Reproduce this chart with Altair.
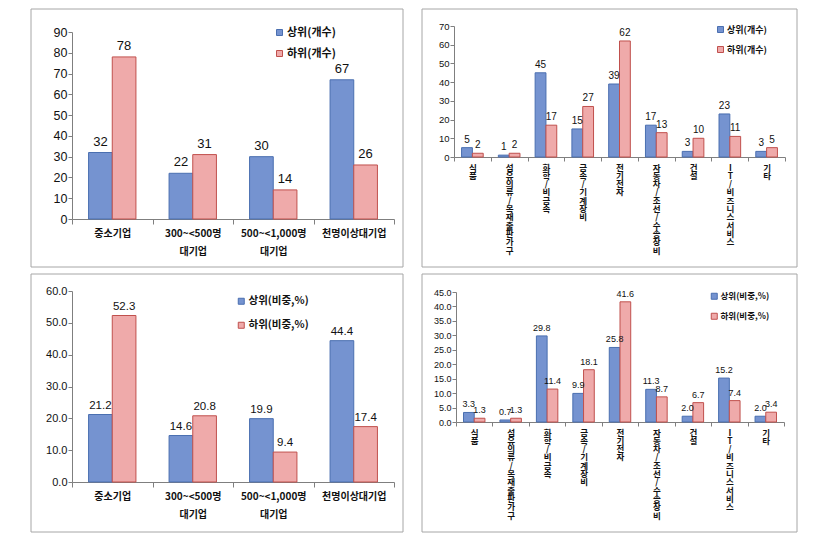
import altair as alt
import pandas as pd

# ---------------- data ----------------
size_cats = ["중소기업", "300~<500명 대기업", "500~<1,000명 대기업", "천명이상대기업"]
ind_cats = ["식품", "섬유의류/목재출판가구", "화학/비금속", "금속/기계장비", "전기전자",
            "자동차/조선/수송장비", "건설", "IT/비즈니스서비스", "기타"]

tl_series = ["상위(개수)", "하위(개수)"]
tl_top = [32, 22, 30, 67]
tl_bot = [78, 31, 14, 26]

tr_series = ["상위(개수)", "하위(개수)"]
tr_top = [5, 1, 45, 15, 39, 17, 3, 23, 3]
tr_bot = [2, 2, 17, 27, 62, 13, 10, 11, 5]

bl_series = ["상위(비중,%)", "하위(비중,%)"]
bl_top = [21.2, 14.6, 19.9, 44.4]
bl_bot = [52.3, 20.8, 9.4, 17.4]

br_series = ["상위(비중,%)", "하위(비중,%)"]
br_top = [3.3, 0.7, 29.8, 9.9, 25.8, 11.3, 2.0, 15.2, 2.0]
br_bot = [1.3, 1.3, 11.4, 18.1, 41.6, 8.7, 6.7, 7.4, 3.4]

BLUE_FILL = "#7593d0"
BLUE_LINE = "#4a6fb0"
RED_FILL = "#efaaaa"
RED_LINE = "#c0504d"
FRAME = "#a6a6a6"
AXIS = "#7f7f7f"
NUM_FONT = "'Liberation Sans Narrow', 'Liberation Sans', Arial, sans-serif"
KR_FONT = "'Noto Sans CJK KR', sans-serif"


def panel(cats, series, top, bot, *, width, height, yrange, ymax, ystep, fmt,
          frame, leg, sizes, vertical):
    tick_fs, val_fs, leg_fs, xl_fs = sizes
    df = pd.DataFrame({
        "cat": cats + cats,
        "series": [series[0]] * len(cats) + [series[1]] * len(cats),
        "value": top + bot,
    })
    if vertical:
        xaxis = alt.Axis(title=None, labelAngle=0, tickBand="extent",
                         labelExpr="split(datum.label, '')",
                         labelFont=KR_FONT, labelFontWeight="bold", labelFontSize=xl_fs,
                         labelLineHeight=8.3, labelBaseline="top", labelPadding=2,
                         tickSize=4, domainColor=AXIS, tickColor=AXIS, labelColor="#111")
    else:
        xaxis = alt.Axis(title=None, labelAngle=0, tickBand="extent",
                         labelExpr="split(datum.label, ' ')",
                         labelFont=KR_FONT, labelFontWeight="bold", labelFontSize=xl_fs,
                         labelLineHeight=18, labelBaseline="top", labelPadding=4,
                         tickSize=5, domainColor=AXIS, tickColor=AXIS, labelColor="#111")
    yvals = [round(i * ystep, 1) for i in range(int(round(ymax / ystep)) + 1)]
    yaxis = alt.Axis(title=None, values=yvals, format=fmt, grid=False,
                     labelFont=NUM_FONT, labelFontSize=tick_fs, labelPadding=1,
                     tickSize=4, domainColor=AXIS, tickColor=AXIS, labelColor="#111")
    x = alt.X("cat:N", sort=cats, scale=alt.Scale(paddingInner=0, paddingOuter=0), axis=xaxis)
    xo = alt.XOffset("series:N", sort=series,
                     scale=alt.Scale(paddingOuter=0.7, paddingInner=0))
    y = alt.Y("value:Q", scale=alt.Scale(domain=[0, ymax], range=yrange, nice=False, zero=True),
              axis=yaxis)
    color = alt.Color("series:N", sort=series,
                      scale=alt.Scale(domain=series, range=[BLUE_FILL, RED_FILL]),
                      legend=alt.Legend(orient="none", legendX=leg[0], legendY=leg[1],
                                        title=None, symbolType="square", symbolSize=36,
                                        symbolStrokeWidth=1, padding=0, rowPadding=leg[2],
                                        labelFont=KR_FONT, labelFontWeight="bold",
                                        labelFontSize=leg_fs, labelOffset=2,
                                        labelColor="#111"))
    stroke = alt.Stroke("series:N", sort=series,
                        scale=alt.Scale(domain=series, range=[BLUE_LINE, RED_LINE]),
                        legend=None)
    base = alt.Chart(df)
    bars = base.mark_bar(strokeWidth=1).encode(x=x, xOffset=xo, y=y, color=color, stroke=stroke)
    labels = base.mark_text(baseline="bottom", dy=-4 if not vertical else -3, font=NUM_FONT,
                            fontSize=val_fs, color="#111").encode(
        x=x, xOffset=xo, y=y,
        text=alt.Text("value:Q", format=fmt))
    box = alt.Chart(pd.DataFrame({"k": [0]})).mark_rect(
        filled=False, stroke=FRAME, strokeWidth=1).encode(
        x=alt.value(-frame[0]), x2=alt.value(width + frame[1]),
        y=alt.value(-frame[2]), y2=alt.value(height + frame[3]))
    return alt.layer(box, bars, labels).properties(width=width, height=height)


tl = panel(size_cats, tl_series, tl_top, tl_bot, width=322, height=187, yrange=[187, 0],
           ymax=90, ystep=10, fmt="d", frame=(41, 9, 23, 48), leg=(202, -5, 9),
           sizes=(12.5, 13, 11, 10), vertical=False)
tr = panel(ind_cats, tr_series, tr_top, tr_bot, width=331, height=125, yrange=[125, -6],
           ymax=70, ystep=10, fmt="d", frame=(32, 12, 23, 110), leg=(262, -7, 9),
           sizes=(9.5, 10, 9, 8.5), vertical=True)
bl = panel(size_cats, bl_series, bl_top, bl_bot, width=322, height=191, yrange=[191, 0],
           ymax=60, ystep=10, fmt=".1f", frame=(41, 9, 17, 50), leg=(164, 5, 13),
           sizes=(11, 11.5, 10.5, 10), vertical=False)
br = panel(ind_cats, br_series, br_top, br_bot, width=328, height=131, yrange=[131, 1],
           ymax=45, ystep=5, fmt=".1f", frame=(34, 13, 17, 110), leg=(254, 1, 9),
           sizes=(9, 9, 8.5, 8.5), vertical=True)

res = dict(color="independent", stroke="independent", x="independent", y="independent",
           xOffset="independent")
top_row = alt.hconcat(tl, tr, spacing=17).resolve_scale(**res)
bot_row = alt.hconcat(bl, br, spacing=17).resolve_scale(**res)

chart = alt.vconcat(top_row, bot_row, spacing=5).resolve_scale(**res).properties(
    padding={"left": 22, "top": 0, "right": 0, "bottom": 0},
    background="white",
).configure_view(stroke=None)

chart.save("out.html", embed_options={"renderer": "svg", "actions": False})
